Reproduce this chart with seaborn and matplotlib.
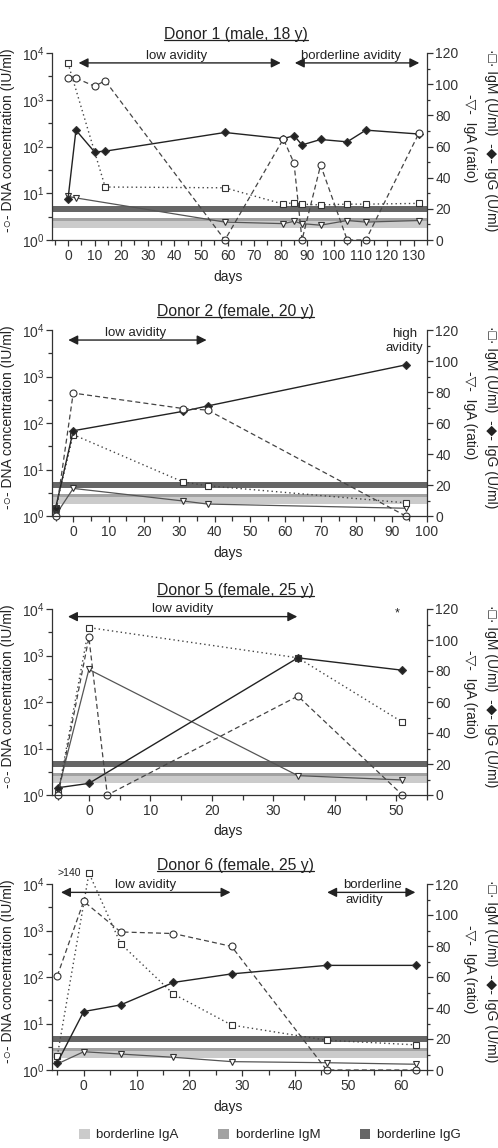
import matplotlib
matplotlib.use("Agg")
import matplotlib.pyplot as plt
import matplotlib.ticker as mticker
from matplotlib.lines import Line2D
from matplotlib.patches import Patch
import seaborn as sns

# ---- data ----
# Donor 1
d1_dna_days = [0, 3, 10, 14, 59, 81, 85, 88, 95, 105, 112, 132]
d1_dna = [2900, 2900, 1950, 2550, 1, 145, 44, 1, 40, 1, 1, 195]
d1_igm_days = [0, 14, 59, 81, 85, 88, 95, 105, 112, 132]
d1_igm = [113.5, 34, 33.5, 23, 24, 23, 22.5, 23, 23, 23.5]
d1_iga_days = [0, 3, 59, 81, 85, 88, 95, 105, 112, 132]
d1_iga = [28, 27, 11.5, 10.5, 12, 10.5, 9.5, 12.5, 11.5, 12.5]
d1_igg_days = [0, 3, 10, 14, 59, 81, 85, 88, 95, 105, 112, 132]
d1_igg = [26, 70.5, 56.5, 57, 69, 65, 67, 61, 64.5, 63, 70.5, 68]

# Donor 2
d2_days = [-5, 0, 31, 38, 94]
d2_dna = [1, 440, 205, 190, 1]
d2_igm = [4.9, 52.5, 22, 19.5, 8.5]
d2_iga = [0.5, 17.8, 9.7, 7.7, 5]
d2_igg = [4.9, 55, 67.5, 71, 97.5]

# Donor 5
d5_dna_days = [-5, 0, 3, 34, 51]
d5_dna = [1, 2450, 1, 134, 1]
d5_days = [-5, 0, 34, 51]
d5_igm = [1.5, 108, 88.5, 47]
d5_iga = [3, 81, 12.5, 9.7]
d5_igg = [4.7, 7.5, 88.5, 80.5]

# Donor 6 (IgM at day 1 is ">140", drawn just above the axis)
d6_days = [-5, 0, 7, 17, 28, 46, 63]
d6_dna = [106, 4250, 930, 860, 455, 1, 1]
d6_igm_days = [-5, 1, 7, 17, 28, 46, 63]
d6_igm = [9, 127, 81.5, 49, 29, 19.2, 16.2]
d6_iga = [3.9, 11.8, 10.3, 8.2, 5.4, 4.7, 3.7]
d6_igg = [4.7, 37.7, 42, 56.5, 62, 67.5, 67.5]

# borderline ranges (right axis units)
band_iga = (7.5, 12)
band_igm = (12, 14)
band_igg = (18, 22)

titles = ["Donor 1 (male, 18 y)", "Donor 2 (female, 20 y)",
          "Donor 5 (female, 25 y)", "Donor 6 (female, 25 y)"]

sns.set_style("ticks")
plt.rcParams["font.family"] = ["Liberation Sans", "DejaVu Sans"]
plt.rcParams["axes.edgecolor"] = "#333333"
plt.rcParams["text.color"] = "#222222"

W, H = 498, 1148
fig = plt.figure(figsize=(W / 100, H / 100), dpi=100)

c_light, c_mid, c_dark = "#cbcbcb", "#a2a2a2", "#666666"
ink = "#222222"


def rect(top, bottom, left=52, right=427):
    return [left / W, 1 - bottom / H, (right - left) / W, (bottom - top) / H]


panels = [
    dict(top=53, bottom=240, xlim=(-6, 135),
         dna=(d1_dna_days, d1_dna), igm=(d1_igm_days, d1_igm),
         iga=(d1_iga_days, d1_iga), igg=(d1_igg_days, d1_igg)),
    dict(top=330, bottom=516, xlim=(-6, 100),
         dna=(d2_days, d2_dna), igm=(d2_days, d2_igm),
         iga=(d2_days, d2_iga), igg=(d2_days, d2_igg)),
    dict(top=609, bottom=795, xlim=(-6, 55),
         dna=(d5_dna_days, d5_dna), igm=(d5_days, d5_igm),
         iga=(d5_days, d5_iga), igg=(d5_days, d5_igg)),
    dict(top=884, bottom=1070, xlim=(-6, 65),
         dna=(d6_days, d6_dna), igm=(d6_igm_days, d6_igm),
         iga=(d6_days, d6_iga), igg=(d6_days, d6_igg)),
]

title_texts = []
axes = []
for i, p in enumerate(panels):
    ax = fig.add_axes(rect(p["top"], p["bottom"]))
    ax2 = ax.twinx()
    ax.set_zorder(ax2.get_zorder() + 1)
    ax.patch.set_visible(False)
    axes.append(ax)

    # borderline bands
    ax2.axhspan(*band_iga, color=c_light, lw=0, zorder=0)
    ax2.axhspan(*band_igm, color=c_mid, lw=0, zorder=0)
    ax2.axhspan(*band_igg, color=c_dark, lw=0, zorder=0)

    common = dict(clip_on=False, sort=False, markeredgecolor="#333333",
                  markeredgewidth=0.8)
    sns.lineplot(x=p["iga"][0], y=p["iga"][1], ax=ax2, color="#555555",
                 lw=0.9, marker="v", markersize=5, markerfacecolor="white",
                 **common)
    sns.lineplot(x=p["igm"][0], y=p["igm"][1], ax=ax2, color="#444444",
                 lw=1.0, linestyle=(0, (1, 2.2)), marker="s", markersize=4.5,
                 markerfacecolor="white", **common)
    sns.lineplot(x=p["igg"][0], y=p["igg"][1], ax=ax2, color=ink,
                 lw=1.0, marker="D", markersize=3.8, markerfacecolor=ink,
                 **common)
    sns.lineplot(x=p["dna"][0], y=p["dna"][1], ax=ax, color="#444444",
                 lw=0.9, linestyle=(0, (4, 2.5)), marker="o", markersize=5,
                 markerfacecolor="white", **common)

    ax.set_yscale("log")
    ax.set_ylim(1, 1e4)
    ax.set_xlim(*p["xlim"])
    ax2.set_ylim(0, 120)
    ax.set_xlabel("")
    ax.set_ylabel("")
    ax2.set_ylabel("")

    ax.xaxis.set_major_locator(mticker.MultipleLocator(10))
    ax.xaxis.set_minor_locator(mticker.MultipleLocator(5))
    ax.yaxis.set_major_locator(mticker.FixedLocator([1, 10, 100, 1000, 10000]))
    ax.yaxis.set_major_formatter(mticker.LogFormatterMathtext())
    ax.yaxis.set_minor_locator(mticker.FixedLocator([10 ** 0.5, 10 ** 1.5,
                                                     10 ** 2.5, 10 ** 3.5]))
    ax.yaxis.set_minor_formatter(mticker.NullFormatter())
    ax2.yaxis.set_major_locator(mticker.MultipleLocator(20))
    ax2.yaxis.set_minor_locator(mticker.MultipleLocator(10))

    ax.tick_params(axis="x", which="major", length=4.5, width=0.9, pad=2,
                   labelsize=10, colors="#333333")
    ax.tick_params(axis="x", which="minor", length=3.5, width=0.9,
                   colors="#333333")
    ax.tick_params(axis="y", which="major", length=4, width=0.9, pad=1.5,
                   labelsize=10, colors="#333333")
    ax.tick_params(axis="y", which="minor", length=3, width=0.9,
                   colors="#333333")
    ax2.tick_params(axis="y", which="major", length=4, width=0.9, pad=2,
                    labelsize=10, colors="#333333")
    ax2.tick_params(axis="y", which="minor", length=2.5, width=0.9,
                    colors="#333333")

    for a in (ax, ax2):
        a.spines["top"].set_visible(False)
        for s in a.spines.values():
            s.set_linewidth(0.9)
    ax.spines["right"].set_visible(False)
    ax2.spines["left"].set_visible(False)
    ax2.spines["bottom"].set_visible(False)

    h = p["bottom"] - p["top"]
    t = ax.text(0.49, 1 + 18.5 / h, titles[i], transform=ax.transAxes,
                ha="center", va="center", fontsize=11.3, color=ink)
    title_texts.append(t)
    ax.text(0.47, -36.5 / h, "days", transform=ax.transAxes, ha="center",
            va="center", fontsize=10, color=ink)

    yc = 1 - ((p["top"] + p["bottom"]) / 2 - 6) / H
    fig.text(8.5 / W, yc, "-○- DNA concentration (IU/ml)", rotation=90,
             ha="center", va="center", fontsize=10, color=ink)
    fig.text(491 / W, yc, "·□· IgM (U/ml)  -◆- IgG (U/ml)", rotation=270,
             ha="center", va="center", fontsize=10, color=ink)
    fig.text(470 / W, yc + 2 / H, "-▽-  IgA (ratio)", rotation=270,
             ha="center", va="center", fontsize=10, color=ink)

arrow = dict(arrowstyle="<|-|>", color=ink, lw=1.0, mutation_scale=14,
             shrinkA=0, shrinkB=0)


def span(ax, x0, x1, yf):
    ax.annotate("", xy=(x1, yf), xytext=(x0, yf),
                xycoords=("data", "axes fraction"),
                textcoords=("data", "axes fraction"), arrowprops=arrow)


def label(ax, x, yf, s, size=9.5):
    ax.text(x, yf, s, transform=ax.get_xaxis_transform(), ha="center",
            va="center", fontsize=size, color=ink)


a1, a2, a5, a6 = axes
span(a1, 4, 80, 0.947)
label(a1, 41, 0.982, "low avidity")
span(a1, 85.3, 132.1, 0.947)
label(a1, 106.6, 0.982, "borderline avidity")

span(a2, -1.4, 37.7, 0.946)
label(a2, 17.5, 0.982, "low avidity")
label(a2, 93.7, 0.942, "high\navidity")

span(a5, -3.4, 33.9, 0.959)
label(a5, 15.2, 0.998, "low avidity")
label(a5, 50.2, 0.975, "*", size=9)

span(a6, -4.3, 27.8, 0.955)
label(a6, 11.7, 0.995, "low avidity")
span(a6, 46.1, 62.8, 0.955)
label(a6, 54.6, 0.995, "borderline")
label(a6, 53.2, 0.914, "avidity")
a6.text(-0.5, 1.058, ">140", transform=a6.get_xaxis_transform(), ha="right",
        va="center", fontsize=7.5, color=ink)

# underline the titles
fig.canvas.draw()
r = fig.canvas.get_renderer()
for t in title_texts:
    bb = t.get_window_extent(r)
    y = bb.y0 + 2.5
    fig.add_artist(Line2D([bb.x0 / W, bb.x1 / W], [y / H, y / H],
                          transform=fig.transFigure, color=ink, lw=0.9))

handles = [Patch(fc=c_light, ec="none"), Patch(fc=c_mid, ec="none"),
           Patch(fc=c_dark, ec="none")]
fig.legend(handles, ["borderline IgA", "borderline IgM", "borderline IgG"],
           ncol=3, loc="center", bbox_to_anchor=(270 / W, 1 - 1135 / H),
           frameon=False, fontsize=9.5, handlelength=0.8, handleheight=0.8,
           handletextpad=0.5, columnspacing=3.0)

fig.savefig("out.png", dpi=100)
